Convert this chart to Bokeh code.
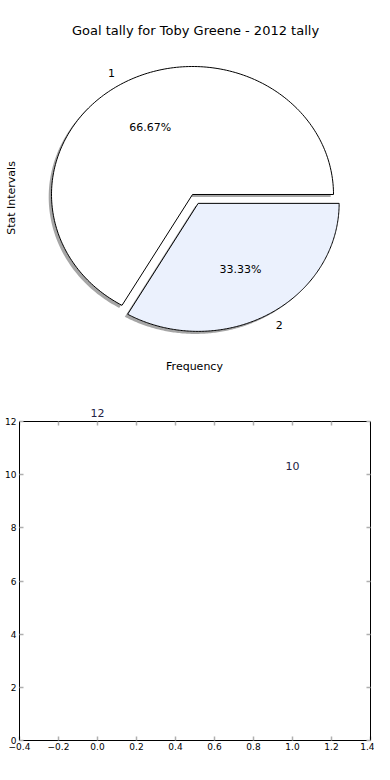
import numpy as np
from bokeh.plotting import figure
from bokeh.layouts import column
from bokeh.models import Range1d, Label, ColumnDataSource, FixedTicker, LinearAxis, CustomJSTickFormatter
from bokeh.core.properties import value
from bokeh.embed import file_html
from bokeh.resources import INLINE

# ---- data ----
slice_labels = ["1", "2"]
slice_values = [2, 1]
slice_colors = ["#ffffff", "#ebf1fd"]
slice_explode = [0.0, 0.08]

bar_x = [0, 1]
bar_values = [12, 10]
bar_text = ["12", "10"]

x_ticks = [-0.4, -0.2, 0.0, 0.2, 0.4, 0.6, 0.8, 1.0, 1.2, 1.4]
x_tick_labels = ["\u22120.4", "\u22120.2", "0.0", "0.2", "0.4", "0.6", "0.8", "1.0", "1.2", "1.4"]
y_ticks = [0, 2, 4, 6, 8, 10, 12]
y_tick_labels = ["0", "2", "4", "6", "8", "10", "12"]
y_min, y_max = 0, 12
x_min, x_max = -0.4, 1.4

title_text = "Goal tally for Toby Greene - 2012 tally"
x_label = "Frequency"
y_label = "Stat Intervals"

FONT = "DejaVu Sans"

# ---- pie figure ----
p1 = figure(width=374, height=395, x_range=Range1d(-1.2270, 1.2624), y_range=Range1d(-1.5703, 1.5156),
            min_border_left=19, min_border_right=4, min_border_top=0, min_border_bottom=0,
            x_axis_location=None, y_axis_location="left", outline_line_color=None,
            toolbar_location=None, output_backend="svg")
p1.grid.visible = False
ya = p1.yaxis[0]
ya.axis_line_color = None
ya.major_tick_line_color = None
ya.minor_tick_line_color = None
ya.formatter = CustomJSTickFormatter(code="return ''")
ya.major_label_standoff = 0
ya.major_label_text_font_size = "0px"
ya.major_tick_out = 0
ya.major_tick_in = 0
ya.axis_label = y_label
ya.axis_label_standoff = -2
ya.axis_label_text_font = FONT
ya.axis_label_text_font_size = "11px"
ya.axis_label_text_font_style = "normal"
ya.axis_label_text_color = "black"

vals = np.array(slice_values, dtype=float)
fracs = vals / vals.sum()
starts = np.concatenate([[0.0], np.cumsum(fracs)[:-1]]) * 2 * np.pi
ends = np.cumsum(fracs) * 2 * np.pi

wx, wy, sx, sy = [], [], [], []
lab_x, lab_y, lab_t, lab_align = [], [], [], []
pct_x, pct_y, pct_t = [], [], []
for i in range(len(vals)):
    mid = (starts[i] + ends[i]) / 2
    cx = slice_explode[i] * np.cos(mid)
    cy = slice_explode[i] * np.sin(mid)
    t = np.linspace(starts[i], ends[i], 200)
    xs = np.concatenate([[cx], cx + np.cos(t), [cx]])
    ys = np.concatenate([[cy], cy + np.sin(t), [cy]])
    wx.append(list(xs)); wy.append(list(ys))
    sx.append(list(xs - 0.02)); sy.append(list(ys - 0.02))
    lx = cx + 1.1 * np.cos(mid)
    ly = cy + 1.1 * np.sin(mid)
    lab_x.append(lx); lab_y.append(ly); lab_t.append(slice_labels[i])
    lab_align.append("right" if lx < 0 else "left")
    pct_x.append(cx + 0.6 * np.cos(mid)); pct_y.append(cy + 0.6 * np.sin(mid))
    pct_t.append(f"{100 * fracs[i]:.2f}%")

p1.patches(sx, sy, fill_color="#4d4d4d", fill_alpha=0.5, line_color=None)
p1.patches(wx, wy, fill_color=slice_colors, line_color="black", line_width=1)

lab_src = ColumnDataSource(dict(x=lab_x, y=lab_y, t=lab_t, a=lab_align))
p1.text(x="x", y="y", text="t", source=lab_src, text_align="a", text_baseline="middle",
        text_font=value(FONT), text_font_size="11px", text_color="black")
pct_src = ColumnDataSource(dict(x=pct_x, y=pct_y, t=pct_t))
p1.text(x="x", y="y", text="t", source=pct_src, text_align="center", text_baseline="middle",
        text_font=value(FONT), text_font_size="11px", text_color="black")

# screen units are measured from the frame's bottom-left corner (frame starts at x=19)
p1.add_layout(Label(x=176, y=365, x_units="screen", y_units="screen", text=title_text,
                    text_align="center", text_baseline="middle", text_font=FONT,
                    text_font_size="13px", text_color="black"))
p1.add_layout(Label(x=175, y=29, x_units="screen", y_units="screen", text=x_label,
                    text_align="center", text_baseline="middle", text_font=FONT,
                    text_font_size="11px", text_color="black"))

# ---- second figure ----
# the frame reaches 16px above the axes box so that the value label above y=12 is visible
frame_h = 319
px_per_unit = frame_h / (y_max - y_min)
y_top = y_max + 16 / px_per_unit
p2 = figure(width=374, height=369, x_range=Range1d(x_min, x_max), y_range=Range1d(y_min, y_top),
            min_border_left=19, min_border_right=4, min_border_top=10, min_border_bottom=24,
            toolbar_location=None, output_backend="svg", outline_line_color=None)
p2.grid.visible = False
p2.add_layout(LinearAxis(), "right")
for ax in p2.axis:
    ax.axis_line_color = "black"
    ax.major_tick_in = 4
    ax.major_tick_out = 0
    ax.major_tick_line_color = "#b0b0b0"
    ax.major_tick_line_width = 1.5
    ax.minor_tick_line_color = None
    ax.major_label_text_font = FONT
    ax.major_label_text_font_size = "9px"
    ax.major_label_text_color = "black"
    ax.major_label_standoff = 2
for ax in p2.xaxis:
    ax.ticker = FixedTicker(ticks=x_ticks)
    ax.major_label_overrides = {t: l for t, l in zip(x_ticks, x_tick_labels)}
for ax in p2.yaxis:
    ax.ticker = FixedTicker(ticks=y_ticks)
    ax.bounds = (y_min, y_max)
    ax.major_label_overrides = {t: l for t, l in zip(y_ticks, y_tick_labels)}
    ax.major_label_standoff = 3
ra = p2.right[0]
ra.formatter = CustomJSTickFormatter(code="return ''")
ra.major_label_overrides = {}
ra.major_label_standoff = 0
ra.major_label_text_font_size = "0px"

# top edge of the axes box with its inward ticks
p2.line(x=[x_min, x_max], y=[y_max, y_max], line_color="black", line_width=1)
p2.segment(x0=x_ticks, y0=[y_max] * len(x_ticks), x1=x_ticks,
           y1=[y_max - 4 / px_per_unit] * len(x_ticks), line_color="#b0b0b0", line_width=1.5)

for bx, bv, bt in zip(bar_x, bar_values, bar_text):
    p2.add_layout(Label(x=bx, y=bv, text=bt, text_align="center", text_baseline="bottom",
                        y_offset=5, text_font=FONT, text_font_size="11px", text_color="#222244"))

layout = column(p1, p2, spacing=0)
open("out.html", "w").write(file_html(layout, INLINE))
